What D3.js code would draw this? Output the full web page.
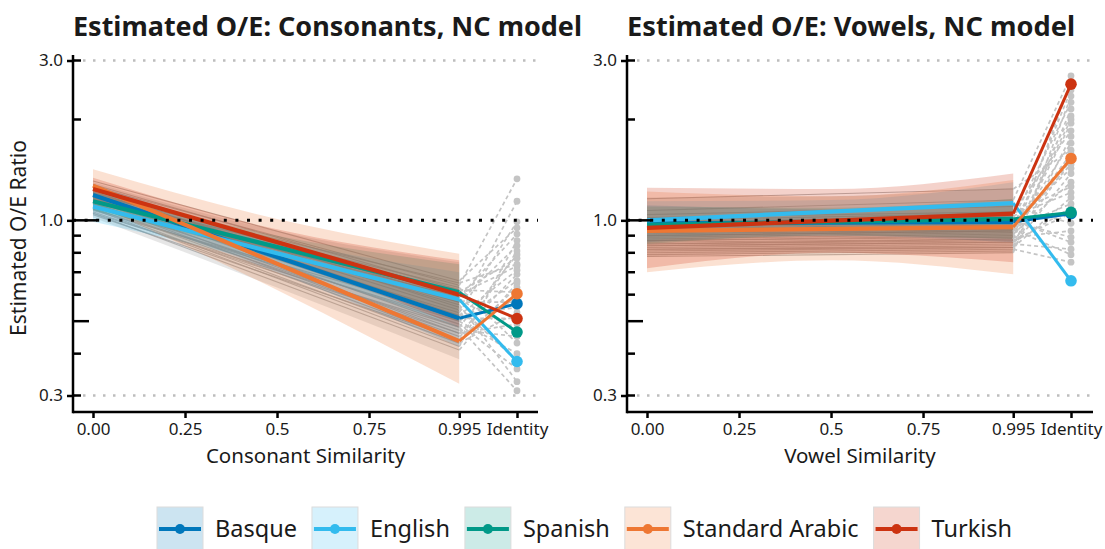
<!DOCTYPE html>
<html><head><meta charset="utf-8">
<script src="https://cdn.jsdelivr.net/npm/d3@7"></script>
<style>
body{margin:0;background:#fff}
svg{display:block}
text{font-family:"Noto Sans",sans-serif;fill:#1a1a1a}
</style>
</head><body>
<svg id="chart" width="1105" height="549"></svg>
<script>
// ---------- data ----------
const languages = ["Basque", "English", "Spanish", "Standard Arabic", "Turkish"];
const colors = ["#0077BB", "#33BBEE", "#009988", "#EE7733", "#CC3311"];
const xTickValues = [0, 0.25, 0.5, 0.75, 0.995];
const xTickLabels = ["0.00", "0.25", "0.5", "0.75", "0.995"];
const identityLabel = "Identity";
const yLabelTicks = [0.3, 1.0, 3.0];
const logTicksShort = [0.3, 0.4, 0.6, 0.7, 0.8, 0.9, 2, 3];
const logTicksMid = [0.5];
const logTicksLong = [1];
const bandX = [0, 0.5, 0.995];

// Consonants
const consStart = [1.19, 1.10, 1.14, 1.27, 1.24];
const consEnd = [0.51, 0.58, 0.61, 0.436, 0.60];
const consIdentity = [0.564, 0.379, 0.464, 0.604, 0.509];
const consRibbonLo = [[1.11, 0.70, 0.42], [0.99, 0.73, 0.48], [1.07, 0.77, 0.50], [1.12, 0.62, 0.325], [1.15, 0.79, 0.48]];
const consRibbonHi = [[1.28, 0.86, 0.62], [1.20, 0.87, 0.70], [1.22, 0.90, 0.74], [1.42, 1.01, 0.795], [1.34, 0.94, 0.76]];
const consOtherLo = [1.02, 0.63, 0.385];
const consOtherHi = [1.30, 0.93, 0.75];
const consGrayStart = [1.31, 1.28, 1.26, 1.25, 1.23, 1.22, 1.21, 1.20, 1.19, 1.18, 1.17, 1.17, 1.16, 1.15, 1.15, 1.14, 1.13, 1.12, 1.12, 1.11, 1.10, 1.10, 1.09, 1.08, 1.08, 1.07, 1.06, 1.05, 1.05, 1.04, 1.13, 1.19];
const consGrayEnd = [0.66, 0.62, 0.64, 0.58, 0.60, 0.55, 0.57, 0.52, 0.54, 0.50, 0.63, 0.48, 0.56, 0.46, 0.51, 0.59, 0.45, 0.49, 0.53, 0.44, 0.47, 0.61, 0.43, 0.50, 0.42, 0.52, 0.46, 0.48, 0.41, 0.44, 0.57, 0.65];
const consGrayId = [0.95, 0.61, 1.33, 0.47, 0.73, 0.38, 0.84, 0.55, 1.14, 0.66, 0.43, 0.79, 0.33, 0.69, 0.51, 0.91, 0.59, 0.36, 0.99, 0.63, 0.45, 0.77, 0.53, 0.40, 0.87, 0.71, 0.49, 0.31, 0.65, 0.81, 0.57, 0.74];

// Vowels
const vowStart = [0.98, 1.00, 0.97, 0.93, 0.95];
const vowEnd = [0.99, 1.126, 1.01, 0.955, 1.047];
const vowIdentity = [1.047, 0.66, 1.056, 1.53, 2.55];
const vowRibbonLo = [[0.86, 0.90, 0.86], [0.87, 0.95, 0.97], [0.85, 0.90, 0.88], [0.70, 0.76, 0.69], [0.72, 0.80, 0.75]];
const vowRibbonHi = [[1.11, 1.08, 1.13], [1.14, 1.15, 1.30], [1.10, 1.09, 1.16], [1.22, 1.18, 1.32], [1.25, 1.24, 1.38]];
const vowOtherLo = [0.78, 0.80, 0.80];
const vowOtherHi = [1.17, 1.18, 1.25];
const vowGrayStart = [1.16, 1.07, 1.04, 1.02, 0.99, 0.97, 0.96, 0.94, 0.93, 0.92, 0.91, 0.90, 0.89, 0.88, 0.87, 0.86, 0.85, 0.85, 0.84, 0.83, 0.82, 0.82, 0.81, 0.80, 0.79, 0.78, 1.00, 0.95, 0.90, 0.87, 0.84, 0.92];
const vowGrayEnd = [1.24, 1.15, 1.10, 1.06, 1.03, 1.01, 1.00, 0.98, 0.97, 0.95, 0.94, 0.93, 0.92, 0.91, 0.89, 0.88, 0.87, 0.88, 0.86, 0.85, 0.84, 0.83, 0.83, 0.82, 0.81, 0.80, 1.05, 0.99, 0.93, 0.90, 0.86, 0.96];
const vowGrayId = [1.62, 2.70, 0.98, 1.85, 1.21, 2.25, 0.86, 1.43, 2.05, 1.12, 0.79, 1.70, 2.45, 1.30, 0.93, 1.95, 1.05, 2.60, 1.52, 0.82, 1.38, 2.15, 1.17, 0.75, 1.78, 2.35, 1.26, 0.89, 1.58, 2.00, 1.09, 1.47];

// ---------- layout ----------
const identityX = 1.152;
const svg = d3.select("#chart");
const yScale = d3.scaleLog().domain([0.3, 3]).range([395.5, 60.5]);
const axisY = 412;

const panels = [
  {title: "Estimated O/E: Consonants, NC model", titleW: 509, xTitle: "Consonant Similarity", left: 73, right: 538,
   start: consStart, end: consEnd, ident: consIdentity, rLo: consRibbonLo, rHi: consRibbonHi,
   oLo: consOtherLo, oHi: consOtherHi, gS: consGrayStart, gE: consGrayEnd, gI: consGrayId},
  {title: "Estimated O/E: Vowels, NC model", titleW: 448, xTitle: "Vowel Similarity", left: 627, right: 1093,
   start: vowStart, end: vowEnd, ident: vowIdentity, rLo: vowRibbonLo, rHi: vowRibbonHi,
   oLo: vowOtherLo, oHi: vowOtherHi, gS: vowGrayStart, gE: vowGrayEnd, gI: vowGrayId}
];

panels.forEach(p => {
  const g = svg.append("g");
  const x = d3.scaleLinear().domain([0, identityX]).range([p.left + 20, p.left + 444]);
  const y = yScale;
  const line = d3.line().x(d => x(d[0])).y(d => y(d[1]));
  const area = d3.area().x(d => x(d.x)).y0(d => y(d.lo)).y1(d => y(d.hi)).curve(d3.curveMonotoneX);

  // grid lines at 0.3 and 3.0
  g.selectAll(".grid").data([0.3, 3.0]).join("line")
    .attr("x1", p.left).attr("x2", p.right)
    .attr("y1", d => y(d)).attr("y2", d => y(d))
    .attr("stroke", "#bdbdbd").attr("stroke-width", 2.5).attr("stroke-dasharray", "2.5,7.5");

  // other-language band
  g.append("path").datum(bandX.map((bx, i) => ({x: bx, lo: p.oLo[i], hi: p.oHi[i]})))
    .attr("d", area).attr("fill", "#8c8c8c").attr("fill-opacity", 0.22);

  // gray lines
  g.selectAll(".gl").data(p.gS.map((s, i) => [[0, s], [0.995, p.gE[i]]])).join("path")
    .attr("d", line).attr("fill", "none").attr("stroke", "#9a9a9a").attr("stroke-width", 1.1).attr("stroke-opacity", 0.7);

  // colored ribbons
  languages.forEach((lang, li) => {
    g.append("path").datum(bandX.map((bx, i) => ({x: bx, lo: p.rLo[li][i], hi: p.rHi[li][i]})))
      .attr("d", area).attr("fill", colors[li]).attr("fill-opacity", 0.22);
  });

  // gray dashed to identity
  g.selectAll(".gd").data(p.gE.map((e, i) => [[0.995, e], [identityX, p.gI[i]]])).join("path")
    .attr("d", line).attr("fill", "none").attr("stroke", "#c4c4c4").attr("stroke-width", 1.7).attr("stroke-dasharray", "4,3");
  g.selectAll(".gp").data(p.gI).join("circle")
    .attr("cx", x(identityX)).attr("cy", d => y(d)).attr("r", 3.4).attr("fill", "#c4c4c4");

  // colored lines
  languages.forEach((lang, li) => {
    g.append("path").datum([[0, p.start[li]], [0.995, p.end[li]]])
      .attr("d", line).attr("fill", "none").attr("stroke", colors[li]).attr("stroke-width", 4.2);
  });
  languages.forEach((lang, li) => {
    g.append("path").datum([[0.995, p.end[li]], [identityX, p.ident[li]]])
      .attr("d", line).attr("fill", "none").attr("stroke", colors[li]).attr("stroke-width", 3);
    g.append("circle").attr("cx", x(identityX)).attr("cy", y(p.ident[li])).attr("r", 5.8).attr("fill", colors[li]);
  });

  // reference line at 1.0
  g.append("line").attr("x1", p.left).attr("x2", p.right).attr("y1", y(1)).attr("y2", y(1))
    .attr("stroke", "#000").attr("stroke-width", 3).attr("stroke-dasharray", "3,8.6");

  // axes lines
  g.append("line").attr("x1", p.left).attr("x2", p.left).attr("y1", 55).attr("y2", axisY + 1.25)
    .attr("stroke", "#000").attr("stroke-width", 2.5);
  g.append("line").attr("x1", p.left).attr("x2", p.right).attr("y1", axisY).attr("y2", axisY)
    .attr("stroke", "#000").attr("stroke-width", 2.5);

  // y axis ticks (outward) with labels
  const yAxis = d3.axisLeft(y).tickValues(yLabelTicks).tickFormat(d3.format(".1f")).tickSize(6).tickPadding(4);
  const ya = g.append("g").attr("transform", `translate(${p.left},0)`).call(yAxis);
  ya.select(".domain").remove();
  ya.selectAll("line").attr("stroke", "#000").attr("stroke-width", 2.5);
  ya.selectAll("text").attr("font-size", 17).attr("fill", "#1a1a1a").style("font-family", "'Noto Sans', sans-serif");

  // log ticks (inward)
  [[logTicksShort, 8], [logTicksMid, 16], [logTicksLong, 24]].forEach(([vals, len]) => {
    g.selectAll(null).data(vals).join("line")
      .attr("x1", p.left).attr("x2", p.left + len).attr("y1", d => y(d)).attr("y2", d => y(d))
      .attr("stroke", "#000").attr("stroke-width", 2.5);
  });

  // x axis
  const xAxis = d3.axisBottom(x).tickValues(xTickValues.concat([identityX]))
    .tickFormat((d, i) => i < xTickLabels.length ? xTickLabels[i] : identityLabel).tickSize(6).tickPadding(5);
  const xa = g.append("g").attr("transform", `translate(0,${axisY})`).call(xAxis);
  xa.select(".domain").remove();
  xa.selectAll("line").attr("stroke", "#000").attr("stroke-width", 2.5);
  xa.selectAll("text").attr("font-size", 17).attr("fill", "#1a1a1a").style("font-family", "'Noto Sans', sans-serif");

  // titles
  g.append("text").attr("x", p.left).attr("y", 36).text(p.title)
    .attr("font-size", 27).attr("font-weight", 700).attr("fill", "#000")
    .attr("textLength", p.titleW).attr("lengthAdjust", "spacingAndGlyphs");
  g.append("text").attr("x", (p.left + p.right) / 2).attr("y", 463).attr("text-anchor", "middle")
    .attr("font-size", 20.5).text(p.xTitle);
});

// y axis title
svg.append("text").attr("transform", "translate(26,238) rotate(-90)").attr("text-anchor", "middle")
  .attr("font-size", 21).text("Estimated O/E Ratio");

// legend
let lx = 157;
const lg = svg.append("g");
languages.forEach((lang, i) => {
  const item = lg.append("g").attr("transform", `translate(${lx},507)`);
  item.append("rect").attr("x", 0).attr("y", 0).attr("width", 46).attr("height", 46)
    .attr("fill", colors[i]).attr("fill-opacity", 0.2).attr("stroke", "#dcdcdc").attr("stroke-width", 1);
  item.append("line").attr("x1", 2).attr("x2", 44).attr("y1", 22).attr("y2", 22)
    .attr("stroke", colors[i]).attr("stroke-width", 4);
  item.append("circle").attr("cx", 23).attr("cy", 22).attr("r", 5).attr("fill", colors[i]);
  const t = item.append("text").attr("x", 58).attr("y", 22).attr("dy", "0.35em").attr("font-size", 23.5).text(lang);
  lx += 58 + t.node().getComputedTextLength() + 15;
});
</script>
</body></html>
